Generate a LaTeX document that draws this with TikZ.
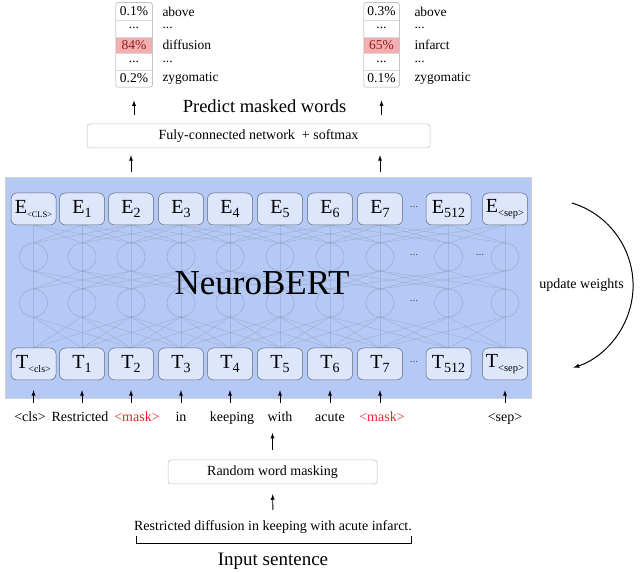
\documentclass[tikz,border=0pt]{standalone}
\usepackage{fontspec}
\setmainfont{Liberation Serif}
\usepackage{tikz}
\usetikzlibrary{positioning,fit}

\definecolor{bertblue}{HTML}{B5C9F6}
\definecolor{tokfill}{HTML}{DDE6FB}
\definecolor{tokline}{HTML}{5E6574}
\definecolor{meshgray}{HTML}{7C879E}
\definecolor{maskred}{HTML}{E0282C}
\definecolor{hlfill}{HTML}{F5AEB0}
\definecolor{hltext}{HTML}{8E1C1F}

\newcommand\tksub[2]{\raisebox{-0.4ex}{\fontsize{#1}{#1}\selectfont #2}}

\begin{document}
\begin{tikzpicture}[x=1pt, y=1pt, >=latex, every path/.append style={line width=0.5pt}, arr/.style={->, line width=0.9pt}, tok/.style={rectangle, draw=tokline, fill=tokfill, rounded corners=6pt, minimum width=45pt, minimum height=32pt, inner sep=0pt, font=\fontsize{20}{22}\selectfont}, unit/.style={circle, draw=meshgray, draw opacity=0.5, minimum size=28pt, inner sep=0pt}, mesh/.style={draw=meshgray, opacity=0.4, line width=0.4pt}, plainbox/.style={rectangle, draw=black!25, rounded corners=3pt, minimum height=24pt, font=\fontsize{14}{16}\selectfont}, pcell/.style={rectangle, minimum width=36pt, minimum height=16.8pt, inner sep=0pt, font=\fontsize{13.5}{15}\selectfont}, plabel/.style={inner sep=0pt, anchor=west, font=\fontsize{13.5}{15}\selectfont}, word/.style={font=\fontsize{14}{16}\selectfont, text height=10pt, text depth=3pt, inner sep=2pt}, maskword/.style={word, text=maskred}, dotsmall/.style={font=\fontsize{11}{12}\selectfont, text=black!70}]
    \useasboundingbox (0,0) rectangle (640,573);

    % Network block
    \node[rectangle, fill=bertblue, draw=black!18, minimum width=526pt, minimum height=221pt] (bert) at (268,285.5) {};

    % Mesh
    \foreach \xa [count=\i] in {33.5,82,131,181,230,280,330,380,448.5,505} {
        \draw[mesh, opacity=0.3] (\xa,348) -- (\xa,225);
        \foreach \xb [count=\j] in {33.5,82,131,181,230,280,330,380,448.5,505} {
            \pgfmathtruncatemacro{\gap}{abs(\i-\j)}
            \ifnum\gap<3
                \ifnum\gap>0
                \draw[mesh] (\xa,348) -- (\xb,330);
                \draw[mesh] (\xa,302) -- (\xb,284);
                \draw[mesh] (\xa,256) -- (\xb,225);
                \fi
            \fi
        }
    }
    \foreach \xa in {33.5,82,131,181,230,280,330,380,448.5,505} {
        \node[unit] at (\xa,316) {};
        \node[unit] at (\xa,270) {};
    }
    \node[dotsmall] (hdots1) at (414,318) {...};
    \node[dotsmall] (hdots2) at (480,318) {...};
    \node[dotsmall] (hdots3) at (414,272) {...};

    \node[font=\fontsize{35}{40}\selectfont] (name) at (262,290) {NeuroBERT};

    % Output tokens
    \node[tok] (ecls)  at (33.5,364)  {E\tksub{8.5}{<CLS>}};
    \node[tok] (e1)    at (82,364)    {E\tksub{14}{1}};
    \node[tok] (e2)    at (131,364)   {E\tksub{14}{2}};
    \node[tok] (e3)    at (181,364)   {E\tksub{14}{3}};
    \node[tok] (e4)    at (230,364)   {E\tksub{14}{4}};
    \node[tok] (e5)    at (280,364)   {E\tksub{14}{5}};
    \node[tok] (e6)    at (330,364)   {E\tksub{14}{6}};
    \node[tok] (e7)    at (380,364)   {E\tksub{14}{7}};
    \node[dotsmall] (edots) at (414,366) {...};
    \node[tok] (e512)  at (448.5,364) {E\tksub{14}{512}};
    \node[tok] (esep)  at (505,364)   {E\tksub{10.5}{<sep>}};

    % Input tokens
    \node[tok] (tcls)  at (33.5,209)  {T\tksub{10}{<cls>}};
    \node[tok] (t1)    at (82,209)    {T\tksub{14}{1}};
    \node[tok] (t2)    at (131,209)   {T\tksub{14}{2}};
    \node[tok] (t3)    at (181,209)   {T\tksub{14}{3}};
    \node[tok] (t4)    at (230,209)   {T\tksub{14}{4}};
    \node[tok] (t5)    at (280,209)   {T\tksub{14}{5}};
    \node[tok] (t6)    at (330,209)   {T\tksub{14}{6}};
    \node[tok] (t7)    at (380,209)   {T\tksub{14}{7}};
    \node[dotsmall] (tdots) at (414,211) {...};
    \node[tok] (t512)  at (448.5,209) {T\tksub{14}{512}};
    \node[tok] (tsep)  at (505,209)   {T\tksub{10.5}{<sep>}};

    % Words
    \node[word]     (wcls)  at (30,155)  {<cls>};
    \node[word]     (w1)    at (80,155)  {Restricted};
    \node[maskword] (w2)    at (137,155) {<mask>};
    \node[word]     (w3)    at (181,155) {in};
    \node[word]     (w4)    at (232,155) {keeping};
    \node[word]     (w5)    at (280,155) {with};
    \node[word]     (w6)    at (330,155) {acute};
    \node[maskword] (w7)    at (382,155) {<mask>};
    \node[word]     (wsep)  at (505,155) {<sep>};

    \draw[arr, shorten <=6.5pt, shorten >=10pt] (wcls.north -| tcls) -- (tcls.south);
    \draw[arr, shorten <=6.5pt, shorten >=10pt] (w1.north -| t1) -- (t1.south);
    \draw[arr, shorten <=6.5pt, shorten >=10pt] (w2.north -| t2) -- (t2.south);
    \draw[arr, shorten <=6.5pt, shorten >=10pt] (w3.north -| t3) -- (t3.south);
    \draw[arr, shorten <=6.5pt, shorten >=10pt] (w4.north -| t4) -- (t4.south);
    \draw[arr, shorten <=6.5pt, shorten >=10pt] (w5.north -| t5) -- (t5.south);
    \draw[arr, shorten <=6.5pt, shorten >=10pt] (w6.north -| t6) -- (t6.south);
    \draw[arr, shorten <=6.5pt, shorten >=10pt] (w7.north -| t7) -- (t7.south);
    \draw[arr, shorten <=6.5pt, shorten >=10pt] (wsep.north -| tsep) -- (tsep.south);

    % Masking
    \node[plainbox, minimum width=209pt] (rwm) at (272.5,101) {Random word masking};
    \coordinate (maskout) at (272.5,140);
    \draw[arr, shorten <=10pt] (rwm.north) -- (maskout);
    \node[word] (sent) at (273,46) {Restricted diffusion in keeping with acute infarct.};
    \draw[arr, shorten <=8.5pt, shorten >=10pt] (sent.north) -- (rwm.south);
    \draw[line width=0.7pt] (136,37) -- (136,30) -- (411,30) -- (411,37);
    \node[font=\fontsize{19}{22}\selectfont] (insent) at (273,12) {Input sentence};

    % Prediction head
    \node[plainbox, minimum width=343pt] (fc) at (258.5,437) {Fuly-connected network\ \ + softmax};
    \draw[arr, shorten <=21pt, shorten >=7pt] (e2.north) -- (e2.north |- fc.south);
    \draw[arr, shorten <=21pt, shorten >=7pt] (e7.north) -- (e7.north |- fc.south);
    \node[font=\fontsize{18.5}{21}\selectfont] (predict) at (264.5,467) {Predict masked words};

    % Left word list
    \node[pcell] (lp1) at (134,561.6) {0.1\%};
    \node[pcell] (lp2) at (134,544.8) {...};
    \node[pcell, fill=hlfill, text=hltext] (lp3) at (134,528) {84\%};
    \node[pcell] (lp4) at (134,511.2) {...};
    \node[pcell] (lp5) at (134,494.4) {0.2\%};
    \node[fit=(lp1)(lp5), inner sep=0pt, draw=black!35, rounded corners=2pt] (lbox) {};
    \draw[black!15] (lp1.south west) -- (lp1.south east);
    \draw[black!15] (lp2.south west) -- (lp2.south east);
    \draw[black!15] (lp3.south west) -- (lp3.south east);
    \draw[black!15] (lp4.south west) -- (lp4.south east);
    \node[plabel] (lw1) [right=10pt of lp1] {above};
    \node[plabel] (lw2) [right=10pt of lp2] {...};
    \node[plabel] (lw3) [right=10pt of lp3] {diffusion};
    \node[plabel] (lw4) [right=10pt of lp4] {...};
    \node[plabel] (lw5) [right=10pt of lp5] {zygomatic};
    \draw[arr, shorten <=9pt, shorten >=13pt] (lp5.south |- fc.north) -- (lbox.south);

    % Right word list
    \node[pcell, minimum width=35pt] (rp1) at (381.5,561.6) {0.3\%};
    \node[pcell, minimum width=35pt] (rp2) at (381.5,544.8) {...};
    \node[pcell, minimum width=35pt, fill=hlfill, text=hltext] (rp3) at (381.5,528) {65\%};
    \node[pcell, minimum width=35pt] (rp4) at (381.5,511.2) {...};
    \node[pcell, minimum width=35pt] (rp5) at (381.5,494.4) {0.1\%};
    \node[fit=(rp1)(rp5), inner sep=0pt, draw=black!35, rounded corners=2pt] (rbox) {};
    \draw[black!15] (rp1.south west) -- (rp1.south east);
    \draw[black!15] (rp2.south west) -- (rp2.south east);
    \draw[black!15] (rp3.south west) -- (rp3.south east);
    \draw[black!15] (rp4.south west) -- (rp4.south east);
    \node[plabel] (rw1) [right=15pt of rp1] {above};
    \node[plabel] (rw2) [right=15pt of rp2] {...};
    \node[plabel] (rw3) [right=15pt of rp3] {infarct};
    \node[plabel] (rw4) [right=15pt of rp4] {...};
    \node[plabel] (rw5) [right=15pt of rp5] {zygomatic};
    \draw[arr, shorten <=9pt, shorten >=13pt] (rp5.south |- fc.north) -- (rbox.south);

    % Update weights
    \coordinate (uwtop) at (572,370);
    \draw[arr, line width=1pt] (uwtop) arc[start angle=73, end angle=-72, radius=86.3pt];
    \node[font=\fontsize{14}{16}\selectfont] (uw) at (581.5,288) {update weights};

\end{tikzpicture}
\end{document}
